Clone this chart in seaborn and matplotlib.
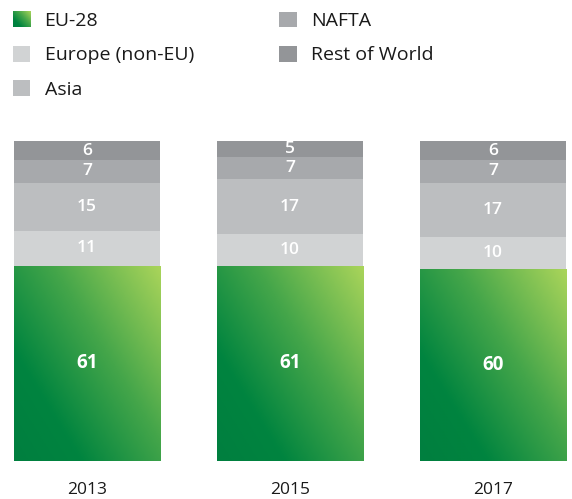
import matplotlib
matplotlib.use("Agg")
import matplotlib.pyplot as plt
import numpy as np
import pandas as pd
import seaborn as sns
from matplotlib.colors import LinearSegmentedColormap
from matplotlib.image import BboxImage
from matplotlib.legend_handler import HandlerBase
from matplotlib.patches import Patch
from matplotlib.transforms import Bbox, TransformedBbox

# Data
years = ["2013", "2015", "2017"]
regions = ["EU-28", "Europe (non-EU)", "Asia", "NAFTA", "Rest of World"]
eu28 = [61, 61, 60]
europe_non_eu = [11, 10, 10]
asia = [15, 17, 17]
nafta = [7, 7, 7]
rest_of_world = [6, 5, 6]

colors = {
    "EU-28": "#3fa34d",
    "Europe (non-EU)": "#d1d3d4",
    "Asia": "#bcbec0",
    "NAFTA": "#a7a9ac",
    "Rest of World": "#939598",
}
green = LinearSegmentedColormap.from_list(
    "eu", [(0.0, "#007f3f"), (0.25, "#00843f"), (0.6, "#45a64a"), (1.0, "#a9d45a")])

sns.set_theme(style="white")
plt.rcParams["font.family"] = ["Open Sans", "DejaVu Sans"]

df = pd.DataFrame({"year": years, "EU-28": eu28, "Europe (non-EU)": europe_non_eu,
                   "Asia": asia, "NAFTA": nafta, "Rest of World": rest_of_world})

fig = plt.figure(figsize=(5.72, 4.99), dpi=100)
ax = fig.add_axes([0, 1 - 461 / 499, 1, 320 / 499])

# diagonal gradient array (origin lower)
n = 64
gx, gy = np.meshgrid(np.linspace(0, 1, n), np.linspace(0, 1, n))
grad = 0.55 * gx + 0.45 * gy

bottom = np.zeros(len(years))
for reg in regions:
    sns.barplot(data=df, x="year", y=reg, bottom=bottom, color=colors[reg],
                width=0.72, saturation=1, linewidth=0, ax=ax)
    bars = ax.patches[-len(years):]
    for b, v, base in zip(bars, df[reg], bottom):
        if reg == "EU-28":
            x0, y0 = b.get_x(), b.get_y()
            im = ax.imshow(grad, cmap=green, origin="lower", aspect="auto",
                           extent=[x0, x0 + b.get_width(), y0, y0 + b.get_height()],
                           interpolation="bilinear", zorder=b.get_zorder() + 0.1)
            im.set_clip_path(b)
        ax.text(b.get_x() + b.get_width() / 2, base + v / 2, str(v),
                ha="center", va="center", color="white",
                fontsize=13.5 if reg == "EU-28" else 12.5,
                fontweight="bold" if reg == "EU-28" else "semibold", zorder=5)
    bottom = bottom + df[reg].to_numpy()

ax.set_xlim((0 - 87) / 203, (572 - 87) / 203)
ax.set_ylim(0, 100)
ax.set_xlabel("")
ax.set_ylabel("")
ax.set_yticks([])
ax.tick_params(axis="x", length=0, pad=15, labelsize=12.5, colors="#1a1a1a")
sns.despine(ax=ax, left=True, bottom=True)


class GradientHandler(HandlerBase):
    def create_artists(self, legend, orig_handle, xdescent, ydescent,
                       width, height, fontsize, trans):
        bb = TransformedBbox(Bbox.from_bounds(-xdescent, -ydescent, width, height), trans)
        img = BboxImage(bb, cmap=green, origin="lower", interpolation="bilinear")
        img.set_data(grad)
        return [img]


handles = [Patch(facecolor=colors[r], edgecolor="none") for r in regions]
leg = fig.legend(handles, regions, loc="upper left", bbox_to_anchor=(-0.008, 1.012),
                 ncol=2, frameon=False, fontsize=14, handlelength=0.88, handleheight=0.88,
                 handletextpad=0.75, labelspacing=0.8, columnspacing=4.4,
                 handler_map={handles[0]: GradientHandler()})
for t in leg.get_texts():
    t.set_color("#1a1a1a")

fig.savefig("out.png", dpi=100, facecolor="white")
